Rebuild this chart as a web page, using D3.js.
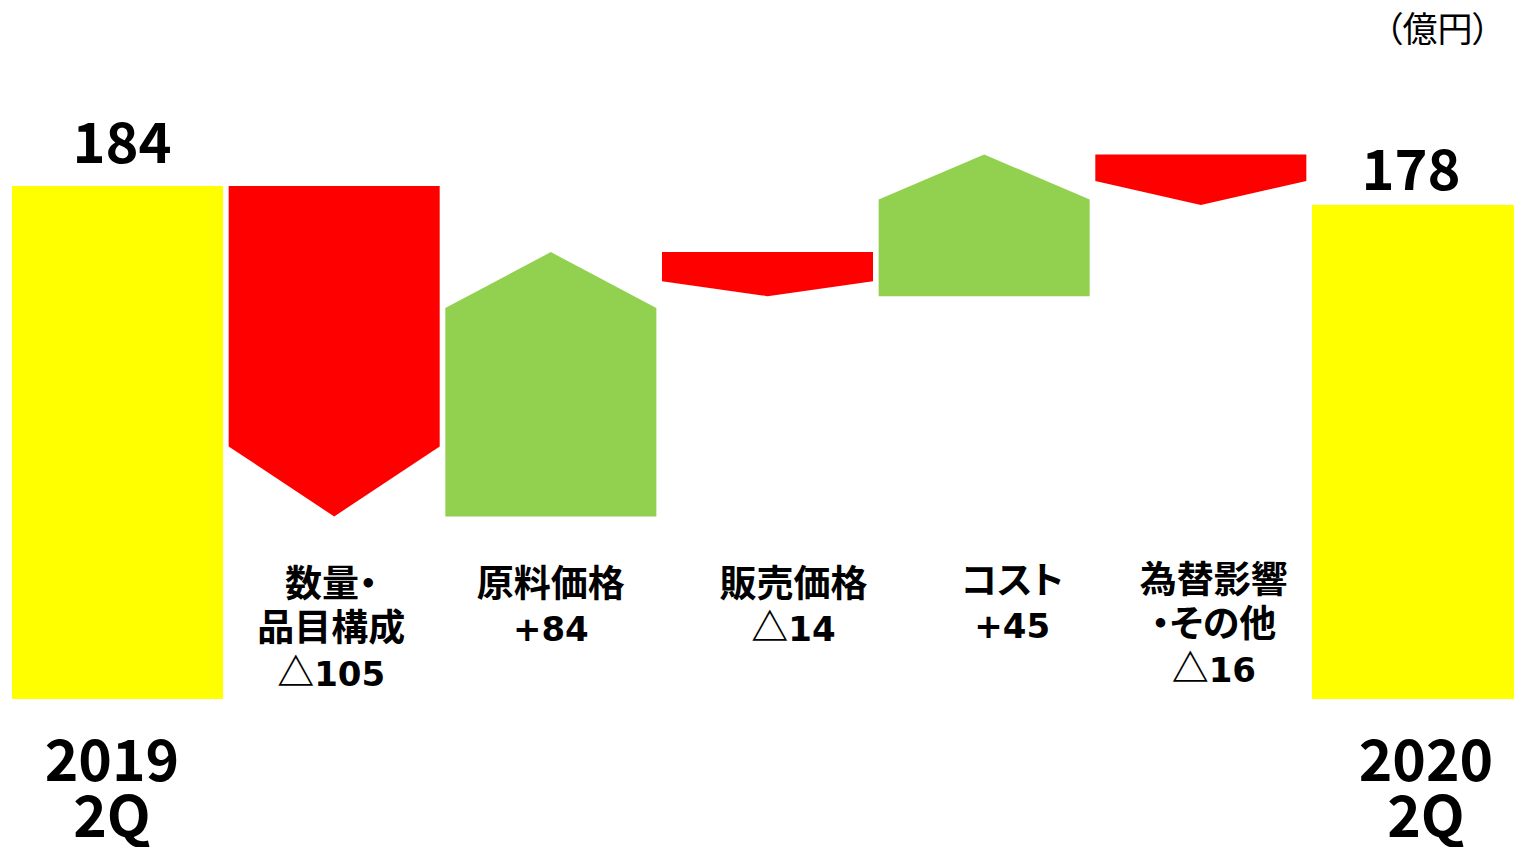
<!DOCTYPE html>
<html>
<head>
<meta charset="utf-8">
<script src="https://cdn.jsdelivr.net/npm/d3@7"></script>
<style>
  html, body { margin: 0; padding: 0; background: #fff; overflow: hidden; }
  svg { display: block; }
  text { font-family: "Noto Sans CJK JP", "Noto Sans", sans-serif; fill: #000; }
</style>
</head>
<body>
<div id="chart"></div>
<script>
// ---- data ----
const categories = ["2019 2Q", "数量・品目構成", "原料価格", "販売価格", "コスト", "為替影響・その他", "2020 2Q"];
const startValue = 184;
const changes = [-105, 84, -14, 45, -16];
const endValue = 178;
const changeLabels = [
  ["数量・", "品目構成", "△105"],
  ["原料価格", "+84"],
  ["販売価格", "△14"],
  ["コスト", "+45"],
  ["為替影響", "・その他", "△16"]
];
const endLabels = [["2019", "2Q"], ["2020", "2Q"]];
const unitLabel = "（億円）";

// ---- layout (not data) ----
const W = 1514, H = 847;
const headPx = [70, 56, 15, 45, 24];
const labelDx = [-3, 0, 26, 28, 13];
const labelDy = [0, 0, 0, -3, -4];

const svg = d3.select("#chart").append("svg").attr("width", W).attr("height", H);

const x = d3.scaleBand().domain(categories).range([12, 1523]).paddingInner(0.026).paddingOuter(0);
const y = d3.scaleLinear().domain([21, 184]).range([699, 186]);
const base = y.domain()[0];

const colors = { total: "#FFFF00", up: "#92D050", down: "#FF0000" };

// totals
const totals = [
  { cat: categories[0], v: startValue, labels: endLabels[0], valDx: 4.5, valGap: 23, yearDx: -5.5 },
  { cat: categories[6], v: endValue, labels: endLabels[1], valDx: -6.5, valGap: 15, yearDx: 8.5 }
];
svg.selectAll("rect.total").data(totals).join("rect")
  .attr("class", "total")
  .attr("x", d => x(d.cat))
  .attr("y", d => y(d.v))
  .attr("width", x.bandwidth())
  .attr("height", d => y(base) - y(d.v))
  .attr("fill", colors.total);

svg.selectAll("text.tval").data(totals).join("text")
  .attr("class", "tval")
  .attr("x", d => x(d.cat) + x.bandwidth() / 2 + d.valDx)
  .attr("y", d => y(d.v) - d.valGap)
  .attr("text-anchor", "middle")
  .attr("font-size", 56).attr("font-weight", 700)
  .text(d => d.v);

totals.forEach(d => {
  d.labels.forEach((s, i) => {
    svg.append("text")
      .attr("text-anchor", "middle")
      .attr("font-size", 57).attr("font-weight", 700)
      .attr("x", x(d.cat) + x.bandwidth() / 2 + d.yearDx)
      .attr("y", 781 + i * 56)
      .text(s);
  });
});

// waterfall steps
let run = startValue;
const steps = changes.map((c, i) => {
  const s = { cat: categories[i + 1], from: run, to: run + c, c, i };
  run += c;
  return s;
});

svg.selectAll("path.step").data(steps).join("path")
  .attr("class", "step")
  .attr("fill", d => d.c < 0 ? colors.down : colors.up)
  .attr("d", d => {
    const x0 = x(d.cat), x1 = x0 + x.bandwidth(), xc = (x0 + x1) / 2;
    const ys = y(d.from), yt = y(d.to);
    const h = headPx[d.i] * (d.c < 0 ? -1 : 1);
    const path = d3.path();
    path.moveTo(x0, ys);
    path.lineTo(x1, ys);
    path.lineTo(x1, yt + h);
    path.lineTo(xc, yt);
    path.lineTo(x0, yt + h);
    path.closePath();
    return path.toString();
  });

// category labels (digits in a wider Latin face, CJK in Noto Sans CJK)
steps.forEach(d => {
  changeLabels[d.i].forEach((s, j) => {
    const t = svg.append("text")
      .attr("text-anchor", "middle")
      .attr("font-weight", 700)
      .attr("x", x(d.cat) + x.bandwidth() / 2 + labelDx[d.i])
      .attr("y", 596.5 + labelDy[d.i] + j * 44.5)
      .style("font-feature-settings", "'palt' 1");
    const parts = s.match(/[0-9+]+|[^0-9+]+/g);
    parts.forEach(p => {
      const isNum = /^[0-9+]+$/.test(p);
      t.append("tspan")
        .style("font-family", isNum ? "'DejaVu Sans', sans-serif" : "'Noto Sans CJK JP', sans-serif")
        .attr("font-size", isNum ? 34 : 37)
        .text(p);
    });
  });
});

// unit
svg.append("text")
  .attr("x", 1490).attr("y", 42)
  .attr("text-anchor", "end")
  .attr("font-size", 35)
  .style("font-feature-settings", "'palt' 1")
  .text(unitLabel);
</script>
</body>
</html>
